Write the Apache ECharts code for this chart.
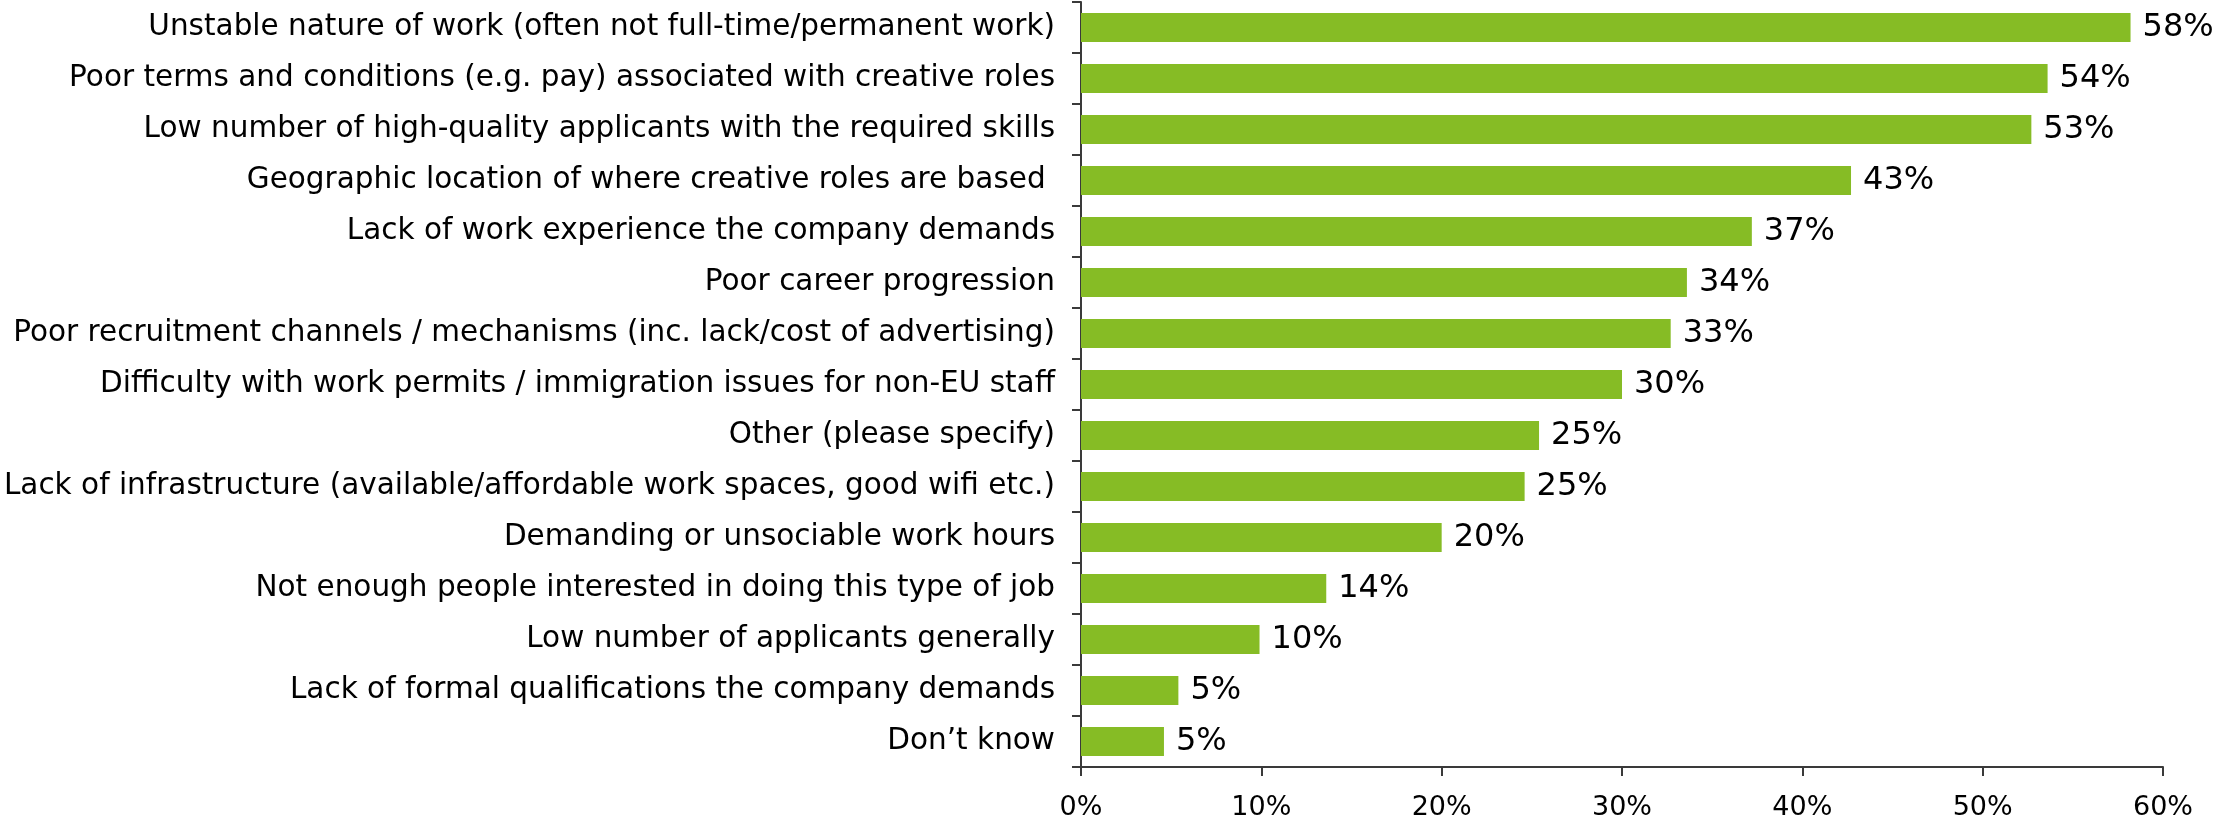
<!DOCTYPE html>
<html>
<head>
<meta charset="utf-8">
<script src="https://cdn.jsdelivr.net/npm/echarts@6/dist/echarts.min.js"></script>
<style>
  html, body { margin: 0; padding: 0; background: #fff; }
  #chart { width: 2215px; height: 824px; }
</style>
</head>
<body>
<div id="chart"></div>
<script>
// Reasons for difficulty filling creative roles (share of respondents, %)
const categories = [
  'Unstable nature of work (often not full-time/permanent work)',
  'Poor terms and conditions (e.g. pay) associated with creative roles',
  'Low number of high-quality applicants with the required skills',
  'Geographic location of where creative roles are based ',
  'Lack of work experience the company demands',
  'Poor career progression',
  'Poor recruitment channels / mechanisms (inc. lack/cost of advertising)',
  'Difficulty with work permits / immigration issues for non-EU staff',
  'Other (please specify)',
  'Lack of infrastructure (available/affordable work spaces, good wifi etc.)',
  'Demanding or unsociable work hours',
  'Not enough people interested in doing this type of job',
  'Low number of applicants generally',
  'Lack of formal qualifications the company demands',
  'Don\u2019t know'
];
const shares = [58.2, 53.6, 52.7, 42.7, 37.2, 33.6, 32.7, 30.0, 25.4, 24.6, 20.0, 13.6, 9.9, 5.4, 4.6];
const axisTicks = { min: 0, max: 60, step: 10 };

const FONT = '"DejaVu Sans", Verdana, sans-serif';
const AXIS_COLOR = '#3a3a3a';

const chart = echarts.init(document.getElementById('chart'), null, { renderer: 'canvas' });
chart.setOption({
  animation: false,
  grid: { left: 1081, right: 52, top: 2, bottom: 57, containLabel: false, outerBoundsMode: 'none' },
  xAxis: {
    type: 'value',
    min: axisTicks.min,
    max: axisTicks.max,
    interval: axisTicks.step,
    axisLine: { show: true, lineStyle: { color: AXIS_COLOR, width: 2 } },
    axisTick: { show: true, length: 9, lineStyle: { color: AXIS_COLOR, width: 2 } },
    splitLine: { show: false },
    axisLabel: {
      margin: 27,
      color: '#000',
      fontFamily: FONT,
      fontSize: 27,
      formatter: v => v + '%'
    }
  },
  yAxis: {
    type: 'category',
    inverse: true,
    data: categories,
    axisLine: { show: true, lineStyle: { color: AXIS_COLOR, width: 2 } },
    axisTick: { show: true, length: 9, lineStyle: { color: AXIS_COLOR, width: 2 } },
    axisLabel: {
      margin: 26,
      color: '#000',
      fontFamily: FONT,
      fontSize: 29.5
    }
  },
  series: [{
    type: 'bar',
    data: shares,
    barCategoryGap: '43%',
    itemStyle: { color: '#86bc25' },
    label: {
      show: true,
      position: 'right',
      distance: 12,
      color: '#000',
      fontFamily: FONT,
      fontSize: 32,
      formatter: p => Math.round(p.value) + '%'
    }
  }]
});
</script>
</body>
</html>
